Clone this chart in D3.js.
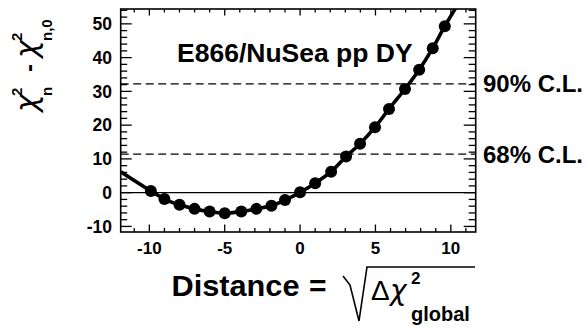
<!DOCTYPE html>
<html><head><meta charset="utf-8">
<script src="https://cdn.jsdelivr.net/npm/d3@7"></script>
<style>body{margin:0;background:#fff}svg{display:block}text{font-family:"Liberation Sans",Arial,sans-serif;fill:#000}.gk{font-family:"DejaVu Sans",sans-serif;font-style:oblique}</style>
</head><body>
<script>
// Data
const distX = [-9.9,-9.0,-8.0,-7.0,-6.0,-5.0,-3.9,-2.9,-1.9,-1.0,0.0,1.0,2.06,3.05,3.98,4.97,5.9,6.96,7.9,8.8,9.6];
const chiVals = [0.5,-1.9,-3.6,-4.8,-5.6,-6.1,-5.6,-4.8,-3.9,-2.2,0.1,2.8,6.2,10.7,14.5,19.4,24.8,30.7,36.4,42.8,49.3];
const curveStart = [-11.9, 6.2];
const curveEnd = [10.3, 54.5];
const clLevels = [32.2, 11.4];
const clLabels = ["90% C.L.", "68% C.L."];
const xMajor = [-10,-5,0,5,10];
const yMajor = [-10,0,10,20,30,40,50];
const title = "E866/NuSea pp DY";

const W = 587, H = 332;
const svg = d3.select("body").append("svg").attr("width", W).attr("height", H);
const L = 120.7, R = 475.7, T = 9, B = 232;
const x = d3.scaleLinear().domain([-11.9, 11.65]).range([L, R]);
const y = d3.scaleLinear().domain([-11.65, 54.4]).range([B, T]);

svg.append("defs").append("clipPath").attr("id","clip")
  .append("rect").attr("x",L).attr("y",T).attr("width",R-L).attr("height",B-T);

const xMinor = d3.range(-11, 12, 1).filter(v => !xMajor.includes(v));
const yMinor = d3.range(-10, 55, 2).filter(v => !yMajor.includes(v));

// ticks
const tk = svg.append("g").attr("stroke","#000").attr("stroke-width",1.3);
xMajor.forEach(v => {
  tk.append("line").attr("x1",x(v)).attr("x2",x(v)).attr("y1",B).attr("y2",B-7.5);
  tk.append("line").attr("x1",x(v)).attr("x2",x(v)).attr("y1",T).attr("y2",T+6.5);
});
xMinor.forEach(v => {
  tk.append("line").attr("x1",x(v)).attr("x2",x(v)).attr("y1",B).attr("y2",B-4);
  tk.append("line").attr("x1",x(v)).attr("x2",x(v)).attr("y1",T).attr("y2",T+3.5);
});
yMajor.forEach(v => {
  tk.append("line").attr("x1",L).attr("x2",L+11).attr("y1",y(v)).attr("y2",y(v));
  tk.append("line").attr("x1",R).attr("x2",R-12).attr("y1",y(v)).attr("y2",y(v));
});
yMinor.forEach(v => {
  tk.append("line").attr("x1",L).attr("x2",L+6.5).attr("y1",y(v)).attr("y2",y(v));
  tk.append("line").attr("x1",R).attr("x2",R-7).attr("y1",y(v)).attr("y2",y(v));
});

// zero line and CL lines
svg.append("line").attr("x1",L).attr("x2",R).attr("y1",y(0)).attr("y2",y(0))
  .attr("stroke","#000").attr("stroke-width",1.2);
clLevels.forEach(v => {
  svg.append("line").attr("x1",L).attr("x2",R).attr("y1",y(v)).attr("y2",y(v))
    .attr("stroke","#000").attr("stroke-width",1.3).attr("stroke-dasharray","8,4.5");
});

// frame
svg.append("rect").attr("x",L).attr("y",T).attr("width",R-L).attr("height",B-T)
  .attr("fill","none").attr("stroke","#000").attr("stroke-width",1.6);

// curve + points
const pts = distX.map((d,i) => [d, chiVals[i]]);
const curvePts = [curveStart, ...pts, curveEnd];
const g = svg.append("g").attr("clip-path","url(#clip)");
g.append("path").datum(curvePts)
  .attr("d", d3.line().x(d=>x(d[0])).y(d=>y(d[1])).curve(d3.curveCatmullRom))
  .attr("fill","none").attr("stroke","#000").attr("stroke-width",3.6);
g.selectAll("circle").data(pts).enter().append("circle")
  .attr("cx",d=>x(d[0])).attr("cy",d=>y(d[1])).attr("r",6).attr("fill","#000");

// tick labels
xMajor.forEach(v => {
  svg.append("text").attr("x",x(v)).attr("y",253.5).attr("text-anchor","middle")
    .attr("font-size",17).attr("font-weight","bold").text(v);
});
yMajor.forEach(v => {
  svg.append("text").attr("x",112).attr("y",y(v)+6.3).attr("text-anchor","end")
    .attr("font-size",17.5).attr("font-weight","bold").text(v);
});

// title
svg.append("text").attr("x",177).attr("y",61.5).attr("font-size",26.5).attr("font-weight","bold").text(title);

// CL labels
clLevels.forEach((v,i) => {
  svg.append("text").attr("x",483).attr("y",y(v)+8.5).attr("font-size",24).attr("font-weight","bold").text(clLabels[i]);
});

// y-axis label (rotated)
const yl = svg.append("g").attr("transform","translate(37,112) rotate(-90)");
yl.append("text").attr("class","gk").attr("x",0).attr("y",0).attr("font-size",30).text("χ");
yl.append("text").attr("x",16).attr("y",-15).attr("font-size",15).attr("font-weight","bold").text("2");
yl.append("text").attr("x",16).attr("y",15).attr("font-size",15).attr("font-weight","bold").text("n");
yl.append("text").attr("x",40).attr("y",0).attr("font-size",24).attr("font-weight","bold").text("-");
yl.append("text").attr("class","gk").attr("x",54).attr("y",0).attr("font-size",30).text("χ");
yl.append("text").attr("x",71).attr("y",-15).attr("font-size",15).attr("font-weight","bold").text("2");
yl.append("text").attr("x",71).attr("y",15).attr("font-size",15).attr("font-weight","bold").text("n,0");

// x-axis label
svg.append("text").attr("x",171.5).attr("y",295.5).attr("font-size",30).attr("font-weight","bold")
  .attr("textLength",128).attr("lengthAdjust","spacingAndGlyphs").text("Distance");
svg.append("text").attr("x",309).attr("y",295.5).attr("font-size",30).attr("font-weight","bold").text("=");
svg.append("path").attr("d","M343,276 L350,285 L359,321 L367,267 L475,267")
  .attr("fill","none").attr("stroke","#000").attr("stroke-width",1.6);
svg.append("text").attr("x",371).attr("y",300).attr("font-size",28).text("Δ");
svg.append("text").attr("class","gk").attr("x",390).attr("y",300).attr("font-size",28).text("χ");
svg.append("text").attr("x",411).attr("y",284).attr("font-size",17).attr("font-weight","bold").text("2");
svg.append("text").attr("x",411).attr("y",321).attr("font-size",20).attr("font-weight","bold").text("global");
</script>
</body></html>
